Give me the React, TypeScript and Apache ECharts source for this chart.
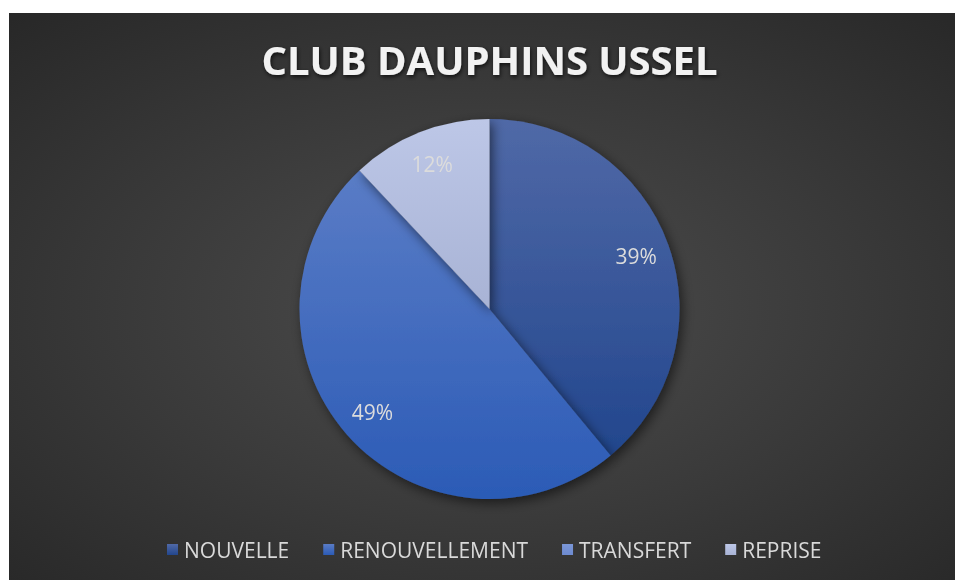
import React, { useEffect, useRef } from "react";
import * as echarts from "echarts";

const TITLE = "CLUB DAUPHINS USSEL";
const categories = ["NOUVELLE", "RENOUVELLEMENT", "TRANSFERT", "REPRISE"];
const values = [39, 49, 0, 12];
const topColors = ["#5069a7", "#5a7cc6", "#7b97d7", "#bdc7e7"];
const bottomColors = ["#22468d", "#2b5bb6", "#6d8ad0", "#a8b3d5"];

const W = 961;
const H = 567;

export default function App() {
  const ref = useRef<HTMLDivElement>(null);
  useEffect(() => {
    document.documentElement.style.overflow = "hidden";
    document.body.style.overflow = "hidden";
    if (!ref.current) return;
    const chart = echarts.init(ref.current, undefined, { renderer: "svg" });
    const grad = (i: number) =>
      new echarts.graphic.LinearGradient(0, 0, 0, 1, [
        { offset: 0, color: topColors[i] },
        { offset: 1, color: bottomColors[i] },
      ]);
    const data = categories.map((name, i) => ({
      name,
      value: values[i],
      itemStyle: { color: grad(i) },
    }));
    const fontFamily = "'Open Sans', sans-serif";
    chart.setOption({
      animation: false,
      backgroundColor: "transparent",
      title: {
        text: TITLE,
        left: "center",
        top: 21,
        textStyle: {
          color: "#f2f2f2",
          fontSize: 40,
          fontWeight: "bold",
          fontFamily,
          textShadowColor: "rgba(0,0,0,0.7)",
          textShadowBlur: 4,
          textShadowOffsetX: 1,
          textShadowOffsetY: 2,
        },
      },
      legend: {
        data: categories,
        bottom: 15,
        left: 153,
        itemWidth: 11,
        itemHeight: 11,
        itemGap: 34,
        icon: "rect",
        textStyle: { color: "#d9d9d9", fontSize: 21, fontFamily, padding: [0, 0, 0, 1] },
      },
      series: [
        {
          type: "pie",
          center: ["50%", 296],
          radius: 190,
          startAngle: 90,
          clockwise: true,
          data,
          label: { show: false },
          labelLine: { show: false },
          emphasis: { disabled: true },
          itemStyle: {
            borderWidth: 0,
            shadowColor: "rgba(0,0,0,0.55)",
            shadowBlur: 12,
            shadowOffsetX: 3,
            shadowOffsetY: 4,
          },
        },
        {
          type: "pie",
          center: ["50%", 296],
          radius: [116, 190],
          startAngle: 90,
          clockwise: true,
          silent: true,
          data: categories.map((name, i) => ({ name, value: values[i] })),
          itemStyle: { color: "rgba(0,0,0,0)", borderWidth: 0 },
          emphasis: { disabled: true },
          label: {
            show: true,
            position: "inside",
            color: "#dcdcdc",
            fontSize: 21,
            fontFamily,
            formatter: (p: any) => (p.value === 0 ? "" : `${Math.round(p.percent)}%`),
          },
          labelLine: { show: false },
        },
      ],
    });
    return () => chart.dispose();
  }, []);
  return (
    <div
      style={{
        position: "fixed",
        left: 9,
        top: 13,
        width: W,
        height: H,
        background:
          "radial-gradient(ellipse 75% 75% at 50% 52%, #4d4d4d 0%, #3a3a3a 50%, #262626 100%)",
      }}
    >
      <div ref={ref} style={{ width: W, height: H }} />
    </div>
  );
}
